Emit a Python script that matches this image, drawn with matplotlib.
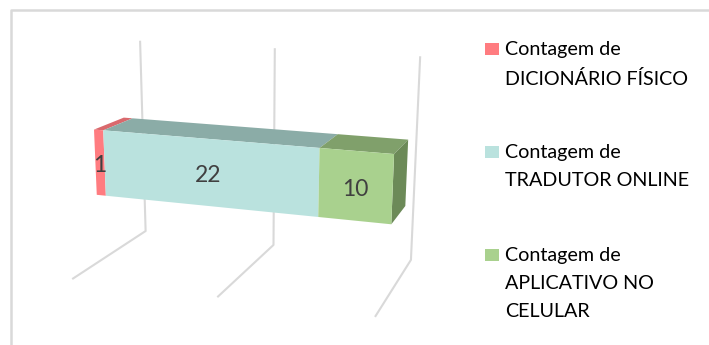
import matplotlib
matplotlib.use('Agg')
import matplotlib.pyplot as plt
import numpy as np
from matplotlib.patches import Polygon, Rectangle

labels = ['Contagem de\nDICIONÁRIO FÍSICO', 'Contagem de\nTRADUTOR ONLINE',
          'Contagem de\nAPLICATIVO NO\nCELULAR']
values = [1, 22, 10]
x_ticks = [0, 15, 30]
x_max = 30  # axis max is fixed at 30 in the source, so the last segment is clipped

front_colors = ['#FF7C80', '#BAE2DE', '#A9D18E']
top_colors = ['#D9696D', '#8BACA7', '#80A06B']
side_colors = ['#C45F62', '#7E9C97', '#6C8A58']

# camera for the Excel 3D view: world (value, depth 0..1, height 0..1) -> pixel
P = np.array([
    [9.091910, 95.55499, -14.51317, 72.21103],
    [0.4155059, -12.91255, -221.5987, 279.0624],
    [-2.669570e-3, 0.1520975, -5.813427e-2, 1.0],
])
BAR_Y = (0.3402, 0.7339)   # front / back depth of the bar
BAR_Z = (0.3318, 0.6465)   # bottom / top height of the bar


def proj(x, y, z):
    q = P @ np.array([x, y, z, 1.0])
    return q[0] / q[2], q[1] / q[2]


fig = plt.figure(figsize=(7.09, 3.45), dpi=100)
ax = fig.add_axes([0, 0, 1, 1])
ax.set_xlim(0, 709)
ax.set_ylim(345, 0)
ax.axis('off')

# gridlines: floor line + back wall line for each tick
grid_kw = dict(color='#D9D9D9', linewidth=1.5, solid_capstyle='butt', zorder=1)
for xv in x_ticks:
    u, v = zip(proj(xv, 0, 0), proj(xv, 1, 0), proj(xv, 1, 1))
    ax.plot(u, v, **grid_kw)

yf, yb = BAR_Y
z0, z1 = BAR_Z
starts = np.concatenate([[0], np.cumsum(values)[:-1]])
ends = np.cumsum(values)
last_end = min(ends[-1], x_max)
for i, (s, e) in enumerate(zip(starts, ends)):
    s, e = min(s, x_max), min(e, x_max)
    if e <= s:
        continue
    front = [proj(s, yf, z0), proj(e, yf, z0), proj(e, yf, z1), proj(s, yf, z1)]
    top = [proj(s, yf, z1), proj(e, yf, z1), proj(e, yb, z1), proj(s, yb, z1)]
    ax.add_patch(Polygon(top, closed=True, facecolor=top_colors[i], edgecolor='none', zorder=2))
    ax.add_patch(Polygon(front, closed=True, facecolor=front_colors[i], edgecolor='none', zorder=3))
    if e == last_end:
        side = [proj(e, yf, z0), proj(e, yb, z0), proj(e, yb, z1), proj(e, yf, z1)]
        ax.add_patch(Polygon(side, closed=True, facecolor=side_colors[i], edgecolor='none', zorder=2))
    lx, ly = proj((s + e) / 2, yf, (z0 + z1) / 2)
    ax.text(lx, ly + 3, str(values[i]), ha='center', va='center', fontsize=16.5,
            family='Lato', color='#404040', zorder=4)

# legend, drawn by hand so the line spacing matches Excel
for i, (lab, col) in enumerate(zip(labels, front_colors)):
    y0 = 49 + i * 103
    ax.add_patch(Rectangle((485, y0 - 6), 14, 12, facecolor=col, edgecolor='none'))
    ax.text(505, y0 - 8, lab, ha='left', va='top', family='Lato', fontsize=14.2,
            linespacing=1.78, color='black')

# chart border (only top/left edges fall inside the crop)
ax.plot([11, 11, 720], [360, 10, 10], color='#D9D9D9', linewidth=1.8, zorder=0)

fig.savefig('out.png', dpi=100)
